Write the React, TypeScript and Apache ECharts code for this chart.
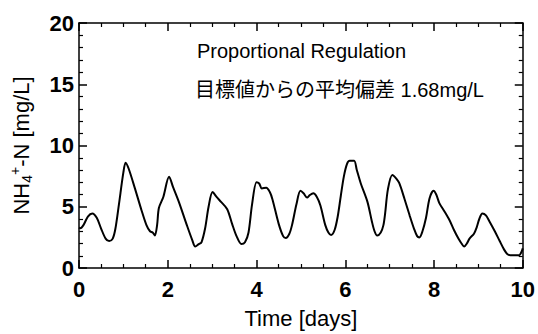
import React, { useEffect, useRef } from "react";
import * as echarts from "echarts";

const days = [
  0, 0.03, 0.1, 0.2, 0.3, 0.4, 0.5, 0.6, 0.68, 0.76, 0.82, 0.9, 1.0, 1.05, 1.12, 1.26, 1.41, 1.52, 1.6,
  1.66, 1.71, 1.76, 1.8, 1.9, 2.03, 2.12, 2.25, 2.43, 2.55, 2.62, 2.7, 2.76, 2.84, 2.92, 3.01, 3.1,
  3.2, 3.34, 3.45, 3.55, 3.66, 3.74, 3.82, 3.9, 4.0, 4.06, 4.12, 4.22, 4.3, 4.36, 4.5, 4.6, 4.66,
  4.74, 4.8, 4.9, 4.99, 5.06, 5.14, 5.2, 5.28, 5.36, 5.44, 5.55, 5.62, 5.68, 5.76, 5.83, 5.9, 5.97,
  6.04, 6.1, 6.2, 6.26, 6.35, 6.5, 6.6, 6.66, 6.72, 6.8, 6.86, 6.9, 6.96, 7.06, 7.15, 7.22, 7.33,
  7.45, 7.55, 7.62, 7.67, 7.74, 7.82, 7.9, 7.99, 8.05, 8.12, 8.24, 8.35, 8.45, 8.55, 8.62, 8.68,
  8.74, 8.8, 8.9, 8.96, 9.02, 9.09, 9.17, 9.25, 9.37, 9.48, 9.58, 9.65, 9.72, 9.92, 9.97, 10.0,
];
const nh4 = [
  3.3, 3.25, 3.5, 4.2, 4.45, 4.1, 3.2, 2.4, 2.2, 2.4, 3.2, 5.2, 7.8, 8.6, 8.1, 6.5, 4.7, 3.5, 3.0,
  2.9, 2.65, 3.5, 4.9, 5.8, 7.45, 6.6, 5.4, 3.5, 2.3, 1.75, 1.95, 2.1, 3.2, 5.0, 6.2, 5.8,
  5.4, 4.8, 3.6, 2.6, 1.95, 2.1, 2.9, 5.2, 7.0, 6.9, 6.5, 6.55, 6.2, 5.6, 3.6, 2.6, 2.45,
  2.8, 3.5, 5.2, 6.3, 6.1, 5.75, 5.95, 6.1, 5.8, 5.1, 3.5, 2.9, 2.7, 3.1, 4.2, 5.9, 7.5,
  8.5, 8.75, 8.75, 8.0, 6.9, 5.4, 3.8, 3.0, 2.65, 2.9, 3.5, 4.5, 6.4, 7.6, 7.3, 6.9, 5.7,
  4.3, 3.2, 2.6, 2.5, 3.0, 4.1, 5.7, 6.3, 6.0, 5.3, 4.6, 3.9, 3.1, 2.4, 2.0, 1.75,
  2.0, 2.4, 2.8, 3.3, 4.0, 4.45, 4.3, 3.8, 3.0, 2.2, 1.5, 1.15, 1.05, 1.05, 1.3, 1.6,
];

const xMin = 0;
const xMax = 10;
const xInterval = 2;
const yMin = 0;
const yMax = 20;
const yInterval = 5;

const xTitle = "Time [days]";
const yTitleParts = ["NH", "4", "+", "-N [mg/L]"];
const annotation1 = "Proportional Regulation";
const annotation2 = "目標値からの平均偏差 1.68mg/L";

const FONT = '"Liberation Sans", Arial, Helvetica, sans-serif';
const FONT_JP = '"Liberation Sans", "Noto Sans CJK JP", sans-serif';

function axisBase(show: boolean, minorSplit: number) {
  return {
    axisLine: { show: true, onZero: false, lineStyle: { color: "#000", width: 1.5 } },
    axisTick: { show: true, inside: true, length: 8, lineStyle: { color: "#000", width: 1.5 } },
    minorTick: { show: true, splitNumber: minorSplit, length: 4, lineStyle: { color: "#000", width: 1.2 } },
    splitLine: { show: false },
    minorSplitLine: { show: false },
    axisLabel: {
      show,
      color: "#000",
      fontSize: 22,
      fontFamily: FONT,
      fontWeight: "bold",
    },
  };
}

export default function App() {
  const ref = useRef<HTMLDivElement>(null);
  useEffect(() => {
    if (!ref.current) return;
    const chart = echarts.init(ref.current, undefined, { renderer: "svg" });
    const data = days.map((d, i) => [d, nh4[i]]);
    const xb = axisBase(true, 4);
    const xt = axisBase(false, 4);
    const yl = axisBase(true, 5);
    const yr = axisBase(false, 5);
    chart.setOption({
      animation: false,
      backgroundColor: "#fff",
      grid: { left: 67, right: 12, top: 23, bottom: 51, containLabel: false },
      xAxis: [
        {
          type: "value",
          position: "bottom",
          min: xMin,
          max: xMax,
          interval: xInterval,
          ...xb,
          axisLabel: { ...xb.axisLabel, margin: 10 },
          name: xTitle,
          nameLocation: "middle",
          nameGap: 39,
          nameTextStyle: { color: "#000", fontSize: 22, fontFamily: FONT },
        },
        {
          type: "value",
          position: "top",
          min: xMin,
          max: xMax,
          interval: xInterval,
          ...xt,
        },
      ],
      yAxis: [
        {
          type: "value",
          position: "left",
          min: yMin,
          max: yMax,
          interval: yInterval,
          ...yl,
          axisLabel: { ...yl.axisLabel, margin: 5 },
          name: `{a|${yTitleParts[0]}}{sub|${yTitleParts[1]}}{sup|${yTitleParts[2]}}{a|${yTitleParts[3]}}`,
          nameLocation: "middle",
          nameRotate: 90,
          nameGap: 45,
          nameTextStyle: {
            color: "#000",
            fontSize: 22,
            fontFamily: FONT,
            rich: {
              a: { fontSize: 22, fontFamily: FONT, color: "#000", lineHeight: 26 },
              sub: { fontSize: 14, fontFamily: FONT, color: "#000", verticalAlign: "bottom", lineHeight: 14 },
              sup: { fontSize: 14, fontFamily: FONT, color: "#000", verticalAlign: "top", lineHeight: 14 },
            },
          },
        },
        {
          type: "value",
          position: "right",
          min: yMin,
          max: yMax,
          interval: yInterval,
          ...yr,
        },
      ],
      graphic: [
        {
          type: "text",
          left: 197,
          top: 41,
          style: { text: annotation1, fill: "#000", font: `20px ${FONT}` },
        },
        {
          type: "text",
          left: 195,
          top: 80,
          style: { text: annotation2, fill: "#000", font: `20px ${FONT_JP}` },
        },
      ],
      series: [
        {
          type: "line",
          data,
          smooth: 0.3,
          symbol: "none",
          lineStyle: { color: "#000", width: 2 },
          xAxisIndex: 0,
          yAxisIndex: 0,
        },
      ],
    });
    return () => chart.dispose();
  }, []);
  return (
    <div
      ref={ref}
      style={{ position: "absolute", left: 0, top: 0, width: 538, height: 334, background: "#fff" }}
    />
  );
}
